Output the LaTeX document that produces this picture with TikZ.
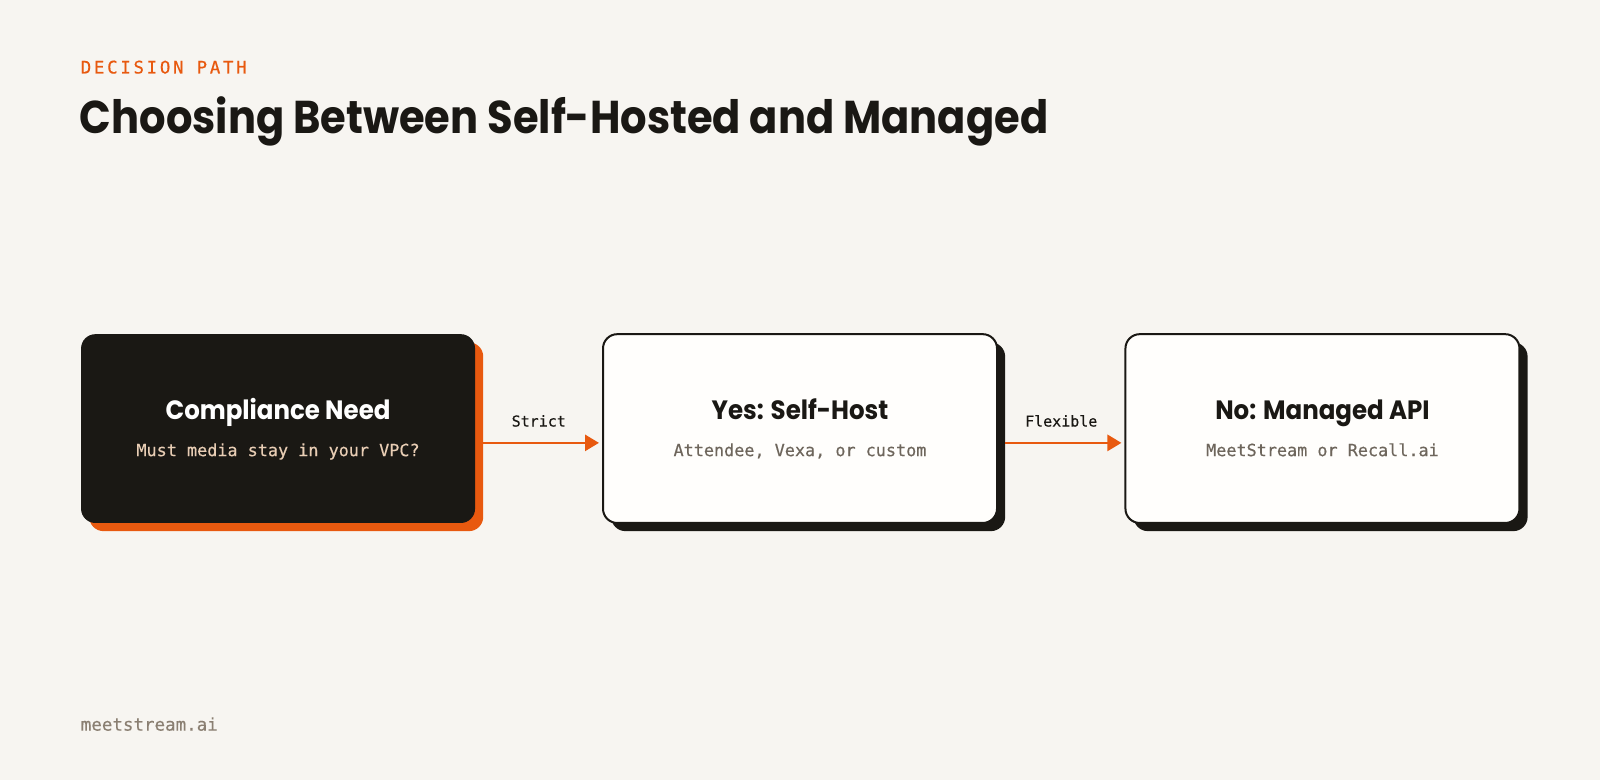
\documentclass[tikz,border=0pt]{standalone}
\usepackage{fontspec}
\setmainfont{Poppins}
\newfontfamily\headf[FakeStretch=0.925]{Poppins}
\newfontfamily\titlef[FakeStretch=0.905]{Poppins}
\newfontfamily\monof[FakeBold=0.35]{DejaVu Sans Mono}
\newfontfamily\monospaced[LetterSpace=16,FakeBold=0.5]{DejaVu Sans Mono}
\usetikzlibrary{arrows.meta}
\definecolor{bgc}{HTML}{F7F5F1}
\definecolor{ink}{HTML}{1A1814}
\definecolor{orng}{HTML}{E8590F}
\definecolor{beige}{HTML}{E8CDB4}
\definecolor{grayt}{HTML}{6E665C}
\definecolor{foot}{HTML}{8A7F72}
\definecolor{boxw}{HTML}{FFFEFC}
\tikzset{
  card/.style={rounded corners=14.3pt, minimum width=394pt, minimum height=188.8pt, inner sep=0pt, outer sep=0pt},
  shadowcard/.style={card, draw=none},
  headt/.style={anchor=base, font=\headf\fontsize{26.5}{30}\selectfont\bfseries},
  subt/.style={anchor=base, font=\monof\fontsize{16.8}{20}\selectfont},
  lbl/.style={anchor=base, font=\monof\fontsize{15}{18}\selectfont, text=ink},
  conn/.style={draw=orng, line width=2.7pt, -{Triangle[length=14pt,width=16pt]}}
}
\begin{document}
\begin{tikzpicture}[x=1.0204pt,y=-1.0204pt]
\fill[bgc] (0,0) rectangle (1568,764.4);
\useasboundingbox (0,0) rectangle (1568,764.4);
% header
\node[anchor=base west, inner sep=0pt, text=orng, font=\monospaced\fontsize{17.3}{20}\selectfont] (kicker) at (79,72) {DECISION PATH};
\node[anchor=base west, inner sep=0pt, text=ink, font=\titlef\fontsize{46}{54}\selectfont\bfseries] (title) at (78,131) {Choosing Between Self-Hosted and Managed};
% shadows
\node[shadowcard, fill=orng] (s1) at (280.5,428) {};
\node[shadowcard, fill=ink] (s2) at (792,428) {};
\node[shadowcard, fill=ink] (s3) at (1304,428) {};
% cards
\node[card, fill=ink] (b1) at (272.5,420) {};
\node[card, fill=boxw, draw=ink, line width=2pt] (b2) at (784,420) {};
\node[card, fill=boxw, draw=ink, line width=2pt] (b3) at (1296,420) {};
% texts
\node[headt, text=white] (h1) at (272.5,411) {Compliance Need};
\node[subt, text=beige] (t1) at (272.5,447) {Must media stay in your VPC?};
\node[headt, text=ink] (h2) at (784,411) {Yes: Self-Host};
\node[subt, text=grayt] (t2) at (784,447) {Attendee, Vexa, or custom};
\node[headt, text=ink] (h3) at (1296,411) {No: Managed API};
\node[subt, text=grayt] (t3) at (1296,447) {MeetStream or Recall.ai};
% connectors
\draw[conn] ([yshift=-14.3pt]s1.east |- b1.center) -- ([xshift=-4pt,yshift=-14.3pt]b2.west);
\draw[conn] ([yshift=-14.3pt]s2.east |- b2.center) -- ([xshift=-4pt,yshift=-14.3pt]b3.west);
\node[lbl] (l1) at (528,418) {Strict};
\node[lbl] (l2) at (1040,418) {Flexible};
% footer
\node[anchor=base west, inner sep=0pt, text=foot, font=\monof\fontsize{17.5}{20}\selectfont] (footer) at (79,716) {meetstream.ai};
\end{tikzpicture}
\end{document}
